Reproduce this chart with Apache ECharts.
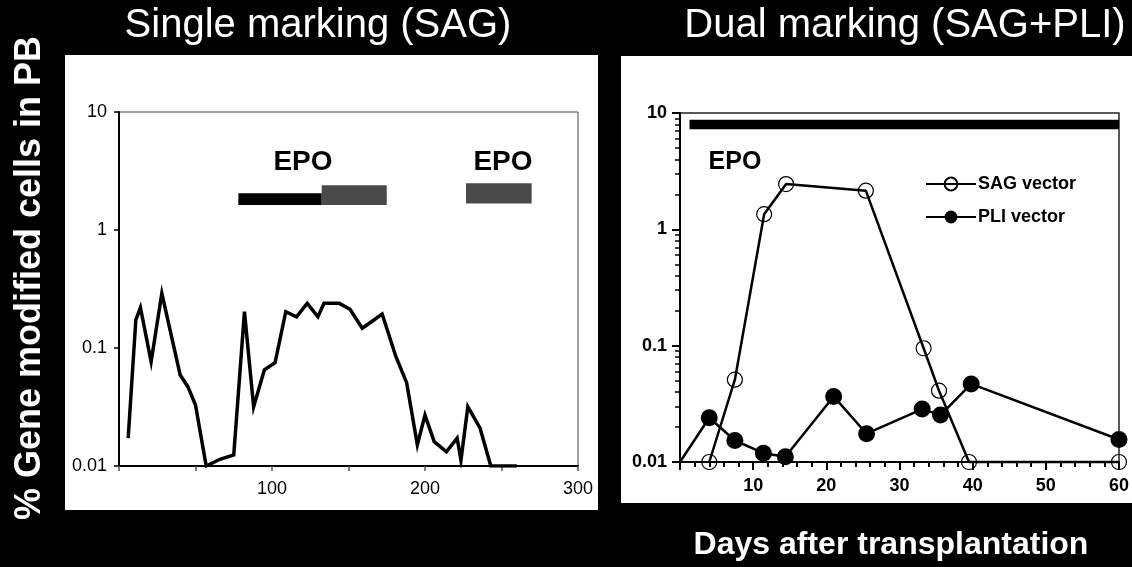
<!DOCTYPE html>
<html>
<head>
<meta charset="utf-8">
<script src="https://cdn.jsdelivr.net/npm/echarts@6/dist/echarts.min.js"></script>
<style>
html,body{margin:0;padding:0;background:#000;}
#c{width:1132px;height:567px;}
</style>
</head>
<body>
<div id="c"></div>
<script>
// ---- Left panel: single marking (SAG) ----
const leftDays = [6, 11, 14, 21, 28, 40, 45, 50, 57, 66, 75, 82, 88, 95, 102, 109, 116, 123, 130, 134, 144, 151, 159, 165, 172, 181, 188, 195, 200, 206, 214, 221, 223.5, 228, 236, 243, 260];
const leftValues = [0.0172, 0.173, 0.22, 0.0766, 0.291, 0.059, 0.047, 0.0329, 0.01, 0.0114, 0.0124, 0.203, 0.0318, 0.0652, 0.075, 0.203, 0.184, 0.239, 0.184, 0.239, 0.239, 0.213, 0.147, 0.167, 0.194, 0.0844, 0.0508, 0.0151, 0.027, 0.0161, 0.0132, 0.0172, 0.0112, 0.0318, 0.0209, 0.01, 0.01];
const leftXTickLabels = [100, 200, 300];
// EPO periods [startDay, endDay, low, high]
const epoLeftBlack = [[78, 132.5, 1.63, 2.05]];
const epoLeftGray = [[132.5, 175, 1.63, 2.4], [226.8, 269.7, 1.68, 2.49]];

// ---- Right panel: dual marking (SAG+PLI) ----
const sagDays = [4, 7.5, 11.5, 14.5, 25.4, 33.3, 35.4, 39.5, 60];
const sagValues = [0.01, 0.051, 1.35, 2.45, 2.15, 0.095, 0.041, 0.01, 0.01];
const pliDays = [0, 4, 7.5, 11.4, 14.4, 21, 25.5, 33.1, 35.6, 39.8, 60];
const pliValues = [0.01, 0.024, 0.0153, 0.0119, 0.0111, 0.0366, 0.0175, 0.0285, 0.0253, 0.0469, 0.0156];
const epoRight = [[1.3, 60, 7.24, 8.74]];
const rightXTickLabels = [10, 20, 30, 40, 50, 60];
const logTickLabels = [0.01, 0.1, 1, 10];
const logMinorMultipliers = [2, 3, 4, 5, 6, 7, 8, 9];
const logDecades = [0.01, 0.1, 1];

const FONT = 'Liberation Sans, Arial, sans-serif';
const chart = echarts.init(document.getElementById('c'), null, {renderer: 'canvas'});

function zip(xs, ys) { return xs.map((x, i) => [x, ys[i]]); }
function fmtLog(v) {
  const r = +(+v).toPrecision(2);
  return logTickLabels.indexOf(r) >= 0 ? String(r) : '';
}
function rectRender(fill) {
  return function (params, api) {
    const p0 = api.coord([api.value(0), api.value(3)]);
    const p1 = api.coord([api.value(1), api.value(2)]);
    return {
      type: 'rect',
      shape: {x: p0[0], y: p0[1], width: p1[0] - p0[0], height: p1[1] - p0[1]},
      style: {fill: fill}
    };
  };
}
// minor log tick values for right y-axis (2..9 in each decade)
const minorLogValues = [];
logDecades.forEach(d => logMinorMultipliers.forEach(k => minorLogValues.push(+(d * k).toPrecision(3))));

const option = {
  backgroundColor: '#000',
  animation: false,
  graphic: [
    {type: 'rect', z: -100, shape: {x: 65, y: 55, width: 533, height: 455}, style: {fill: '#fff'}},
    {type: 'rect', z: -100, shape: {x: 621, y: 56, width: 511, height: 447}, style: {fill: '#fff'}},
    {type: 'text', x: 318, y: 26, style: {text: 'Single marking (SAG)', fill: '#fff', font: '40px ' + FONT, align: 'center', verticalAlign: 'middle'}},
    {type: 'text', x: 905, y: 26, style: {text: 'Dual marking (SAG+PLI)', fill: '#fff', font: '40px ' + FONT, align: 'center', verticalAlign: 'middle'}},
    {type: 'text', x: 30, y: 278, rotation: Math.PI / 2, style: {text: '% Gene modified cells in PB', fill: '#fff', font: 'bold 36px ' + FONT, align: 'center', verticalAlign: 'middle'}},
    {type: 'text', x: 891, y: 545, style: {text: 'Days after transplantation', fill: '#fff', font: 'bold 32px ' + FONT, align: 'center', verticalAlign: 'middle'}},
    {type: 'text', x: 303, y: 162, style: {text: 'EPO', fill: '#000', font: 'bold 28px ' + FONT, align: 'center', verticalAlign: 'middle'}},
    {type: 'text', x: 503, y: 162, style: {text: 'EPO', fill: '#000', font: 'bold 28px ' + FONT, align: 'center', verticalAlign: 'middle'}},
    {type: 'text', x: 735, y: 162, style: {text: 'EPO', fill: '#000', font: 'bold 25px ' + FONT, align: 'center', verticalAlign: 'middle'}}
  ],
  grid: [
    {left: 119, top: 112, width: 459, height: 354, show: true, borderColor: '#444', borderWidth: 1, backgroundColor: 'transparent'},
    {left: 680, top: 113, width: 441, height: 349, show: true, borderColor: '#222', borderWidth: 1.5, backgroundColor: 'transparent'}
  ],
  legend: {
    data: ['SAG vector', 'PLI vector'],
    orient: 'vertical',
    left: 920, top: 170,
    itemWidth: 50, itemHeight: 16, itemGap: 15,
    textStyle: {fontFamily: FONT, fontWeight: 'bold', fontSize: 18, color: '#000', padding: [0, 0, 0, -3]}
  },
  xAxis: [
    {
      gridIndex: 0, type: 'value', min: 0, max: 300, interval: 50,
      axisLine: {show: true, onZero: false, lineStyle: {color: '#000', width: 2}},
      axisTick: {show: true, length: 5, lineStyle: {color: '#555', width: 1.5}},
      splitLine: {show: false},
      axisLabel: {margin: 14, color: '#000', fontFamily: FONT, fontSize: 18,
        formatter: v => leftXTickLabels.indexOf(v) >= 0 ? String(v) : ''}
    },
    {
      gridIndex: 1, type: 'value', min: 0, max: 60, interval: 10,
      axisLine: {show: true, onZero: false, lineStyle: {color: '#000', width: 2}},
      axisTick: {show: true, length: 8, lineStyle: {color: '#000', width: 2}},
      minorTick: {show: true, splitNumber: 5, length: 5, lineStyle: {color: '#000', width: 2}},
      splitLine: {show: false},
      axisLabel: {margin: 15, color: '#000', fontFamily: FONT, fontWeight: 'bold', fontSize: 18,
        formatter: v => rightXTickLabels.indexOf(v) >= 0 ? String(v) : ''}
    }
  ],
  yAxis: [
    {
      gridIndex: 0, type: 'log', logBase: 10, min: 0.01, max: 10,
      axisLine: {show: true, onZero: false, lineStyle: {color: '#000', width: 2}},
      axisTick: {show: true, length: 5, lineStyle: {color: '#000', width: 1.5}},
      splitLine: {show: false},
      axisLabel: {margin: 12, color: '#000', fontFamily: FONT, fontSize: 18, formatter: fmtLog}
    },
    {
      gridIndex: 1, type: 'log', logBase: 10, min: 0.01, max: 10,
      axisLine: {show: true, onZero: false, lineStyle: {color: '#000', width: 2}},
      axisTick: {show: true, length: 8, lineStyle: {color: '#000', width: 2}},
      splitLine: {show: false},
      axisLabel: {margin: 13, color: '#000', fontFamily: FONT, fontWeight: 'bold', fontSize: 18, formatter: fmtLog}
    },
    {
      // companion axis carrying only the 2..9 minor ticks of the right log axis
      gridIndex: 1, type: 'log', logBase: 10, min: 0.01, max: 10, position: 'left',
      axisLine: {show: false, onZero: false},
      axisTick: {show: true, length: 5, customValues: minorLogValues, lineStyle: {color: '#000', width: 1.5}},
      axisLabel: {show: false},
      splitLine: {show: false}
    }
  ],
  series: [
    {
      name: 'Single SAG', type: 'line', xAxisIndex: 0, yAxisIndex: 0,
      data: zip(leftDays, leftValues), showSymbol: false, symbol: 'none',
      lineStyle: {color: '#000', width: 3.5, join: 'miter'}, z: 3
    },
    {
      name: 'EPO left black', type: 'custom', xAxisIndex: 0, yAxisIndex: 0,
      data: epoLeftBlack, encode: {x: [0, 1], y: [2, 3]}, renderItem: rectRender('#000')
    },
    {
      name: 'EPO left gray', type: 'custom', xAxisIndex: 0, yAxisIndex: 0,
      data: epoLeftGray, encode: {x: [0, 1], y: [2, 3]}, renderItem: rectRender('#4a4a4a')
    },
    {
      name: 'EPO right', type: 'custom', xAxisIndex: 1, yAxisIndex: 1,
      data: epoRight, encode: {x: [0, 1], y: [2, 3]}, renderItem: rectRender('#000')
    },
    {
      name: 'SAG vector', type: 'line', xAxisIndex: 1, yAxisIndex: 1,
      data: zip(sagDays, sagValues), symbol: 'circle', symbolSize: 15, showSymbol: true,
      lineStyle: {color: '#000', width: 2.5},
      itemStyle: {color: 'rgba(255,255,255,0)', borderColor: '#000', borderWidth: 1.2},
      clip: false, z: 4
    },
    {
      name: 'PLI vector', type: 'line', xAxisIndex: 1, yAxisIndex: 1,
      data: zip(pliDays, pliValues).map((p, i) => i === 0 ? {value: p, symbol: 'none'} : p),
      symbol: 'circle', symbolSize: 17, showSymbol: true,
      lineStyle: {color: '#000', width: 2.5},
      itemStyle: {color: '#000', borderColor: '#000', borderWidth: 0},
      clip: false, z: 5
    }
  ]
};
chart.setOption(option);
</script>
</body>
</html>
